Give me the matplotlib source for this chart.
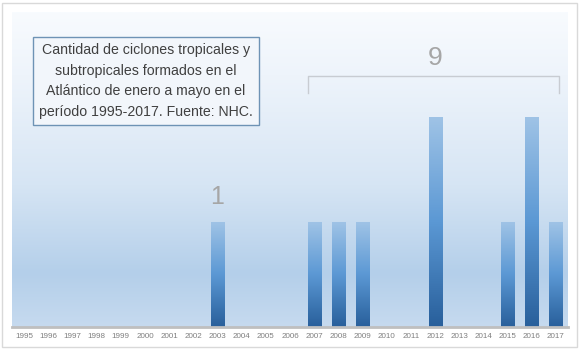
import numpy as np
import matplotlib.pyplot as plt
from matplotlib.colors import LinearSegmentedColormap

# datos: ciclones tropicales/subtropicales enero-mayo (NHC)
anios = [str(a) for a in range(1995, 2018)]
ciclones = [0, 0, 0, 0, 0, 0, 0, 0, 1, 0, 0, 0, 1, 1, 1, 0, 0, 2, 0, 0, 1, 2, 1]
titulo = ("Cantidad de ciclones tropicales y\nsubtropicales formados en el\n"
          "Atlántico de enero a mayo en el\nperíodo 1995-2017. Fuente: NHC.")
total_2007_2017 = sum(ciclones[anios.index('2007'):])

plt.rcParams['font.family'] = ['Liberation Sans', 'DejaVu Sans']

fig = plt.figure(figsize=(5.8, 3.49), dpi=100)
fig.patch.set_facecolor('white')
# borde gris de la figura
fig.add_artist(plt.Rectangle((2/580, 2/349), 575/580, 344/349, transform=fig.transFigure,
                             fill=False, edgecolor='#d9d9d9', lw=1))

ax = fig.add_axes([12/580, 22/349, 556/580, 315/349])
x = np.arange(len(anios))
ymax = 3

# fondo con degradado
fondo = LinearSegmentedColormap.from_list('fondo', [
    (0.0, '#c6daef'), (0.17, '#b4cfea'), (0.45, '#d6e5f4'), (0.8, '#eef4fb'), (1.0, '#f8fbfe')])
grad = np.linspace(0, 1, 256).reshape(-1, 1)
ax.imshow(grad, extent=(-0.5, len(anios) - 0.5, 0, ymax), origin='lower',
          aspect='auto', cmap=fondo, zorder=0)

# barras con degradado
barras = ax.bar(x, ciclones, width=0.54, color='none', zorder=2)
cmap_barra = LinearSegmentedColormap.from_list('barra', ['#285f9b', '#5b98d4', '#9fc3e6'])
for b in barras:
    if b.get_height() == 0:
        continue
    im = ax.imshow(grad, extent=(b.get_x(), b.get_x() + b.get_width(), 0, b.get_height()),
                   origin='lower', aspect='auto', cmap=cmap_barra, zorder=2)
    im.set_clip_path(b)

ax.set_xlim(-0.5, len(anios) - 0.5)
ax.set_ylim(0, ymax)
ax.set_xticks(x)
ax.set_xticklabels(anios, fontsize=5.8, color='#7f7f7f')
ax.tick_params(axis='x', length=0, pad=4)
ax.set_yticks([])
for s in ['top', 'right', 'left']:
    ax.spines[s].set_visible(False)
ax.spines['bottom'].set_color('#bfbfbf')
ax.spines['bottom'].set_linewidth(2)

# anotaciones
i03 = anios.index('2003')
ax.text(i03, ciclones[i03] + 0.24, '1', ha='center', va='center',
        fontsize=18, color='#a6a6a6')
i07 = anios.index('2007')
i17 = anios.index('2017')
x0 = i07 - 0.27
x1 = i17 + 0.13
ax.plot([x0, x0, x1, x1], [2.23, 2.39, 2.39, 2.23], color='#c8ccd2', lw=1, zorder=3)
ax.text((i07 + i17) / 2, 2.56, str(total_2007_2017), ha='center', va='center',
        fontsize=19, color='#a6a6a6')

# cuadro de texto
fig.text(146/580, 1 - 81/349, titulo, ha='center', va='center', fontsize=10.2,
         color='#404040', linespacing=1.6,
         bbox=dict(boxstyle='square,pad=0.45', facecolor='#f2f6fb', edgecolor='#6e93b5', lw=1))

plt.savefig('out.png', dpi=100)
